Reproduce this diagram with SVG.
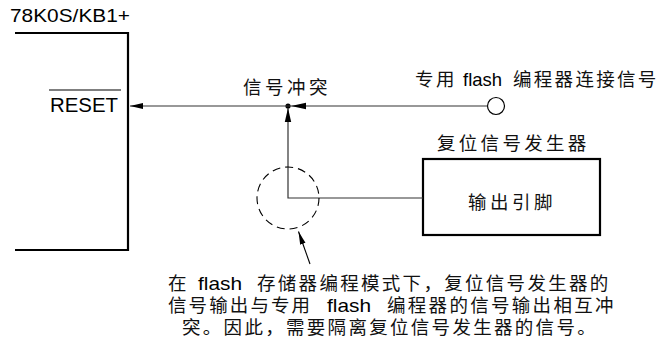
<svg xmlns="http://www.w3.org/2000/svg" width="665" height="350" viewBox="0 0 665 350">
<style>
.lat{font-family:"Liberation Sans",Arial,sans-serif;fill:#000}
.cjk{font-family:"Noto Sans CJK SC","Noto Sans CJK JP",sans-serif;font-size:18.5px;fill:#111}
.thick{stroke:#000;stroke-width:2.2;fill:none}
.wire{stroke:#333;stroke-width:1.2;fill:none}
</style>
<defs>
<marker id="ah" markerWidth="14" markerHeight="8" refX="13" refY="4" orient="auto" markerUnits="userSpaceOnUse">
<path d="M0,1 L13,4 L0,7 Z" fill="#000"/>
</marker>
<marker id="ahs" markerWidth="14" markerHeight="8" refX="13" refY="4" orient="auto" markerUnits="userSpaceOnUse">
<path d="M0,1.2 L13,4 L0,6.8 Z" fill="#000"/>
</marker>
</defs>
<rect width="665" height="350" fill="#fff"/>

<g id="chip">
<text class="lat" x="10" y="22" font-size="18.5" textLength="120" lengthAdjust="spacingAndGlyphs">78K0S/KB1+</text>
<path class="thick" d="M15,33 H128 V250 H15"/>
<text class="lat" x="50" y="112" font-size="19.5" textLength="68" lengthAdjust="spacingAndGlyphs">RESET</text>
<line x1="49" y1="90" x2="121" y2="90" stroke="#000" stroke-width="1.2"/>
</g>

<g id="flash-pin">
<circle cx="496" cy="106" r="8.5" fill="#fff" stroke="#000" stroke-width="1.2"/>
<text class="cjk" y="86"><tspan x="415" letter-spacing="2.5">专用</tspan><tspan class="lat" x="463" font-size="18.5" textLength="39" lengthAdjust="spacingAndGlyphs">flash</tspan><tspan x="513" letter-spacing="2.3">编程器连接信号</tspan></text>
</g>

<g id="reset-gen">
<rect class="thick" x="423" y="159" width="177" height="76"/>
<text class="cjk" x="437" y="150" letter-spacing="3.3">复位信号发生器</text>
<text class="cjk" x="468" y="209" letter-spacing="3.5">输出引脚</text>
</g>

<g id="conflict">
<text class="cjk" x="243" y="94" letter-spacing="3.5">信号冲突</text>
<circle cx="288" cy="106" r="2.6" fill="#000"/>
</g>

<g id="connectors">
<line class="wire" x1="487.5" y1="106" x2="130" y2="106" marker-end="url(#ah)"/>
<path d="M291,106 L306,102.8 L306,109.2 Z" fill="#000"/>
<path class="wire" d="M423,198 H288 V108"/>
<path d="M288,108 L284.8,122 L291.2,122 Z" fill="#000"/>
<circle cx="288" cy="198" r="31" fill="none" stroke="#000" stroke-width="1.1" stroke-dasharray="8,5"/>
<line x1="310" y1="264" x2="298.5" y2="231.5" stroke="#000" stroke-width="1.1" marker-end="url(#ahs)"/>
</g>

<g id="note">
<text class="cjk" y="290"><tspan x="168">在</tspan><tspan class="lat" x="198" font-size="18.5" textLength="44" lengthAdjust="spacingAndGlyphs">flash</tspan><tspan x="257" letter-spacing="2.3">存储器编程模式下，复位信号发生器的</tspan></text>
<text class="cjk" y="312"><tspan x="168" letter-spacing="2.1">信号输出与专用</tspan><tspan class="lat" x="327" font-size="18.5" textLength="44" lengthAdjust="spacingAndGlyphs">flash</tspan><tspan x="387" letter-spacing="2.3">编程器的信号输出相互冲</tspan></text>
<text class="cjk" x="182" y="334" letter-spacing="2.3">突。因此，需要隔离复位信号发生器的信号。</text>
</g>
</svg>
